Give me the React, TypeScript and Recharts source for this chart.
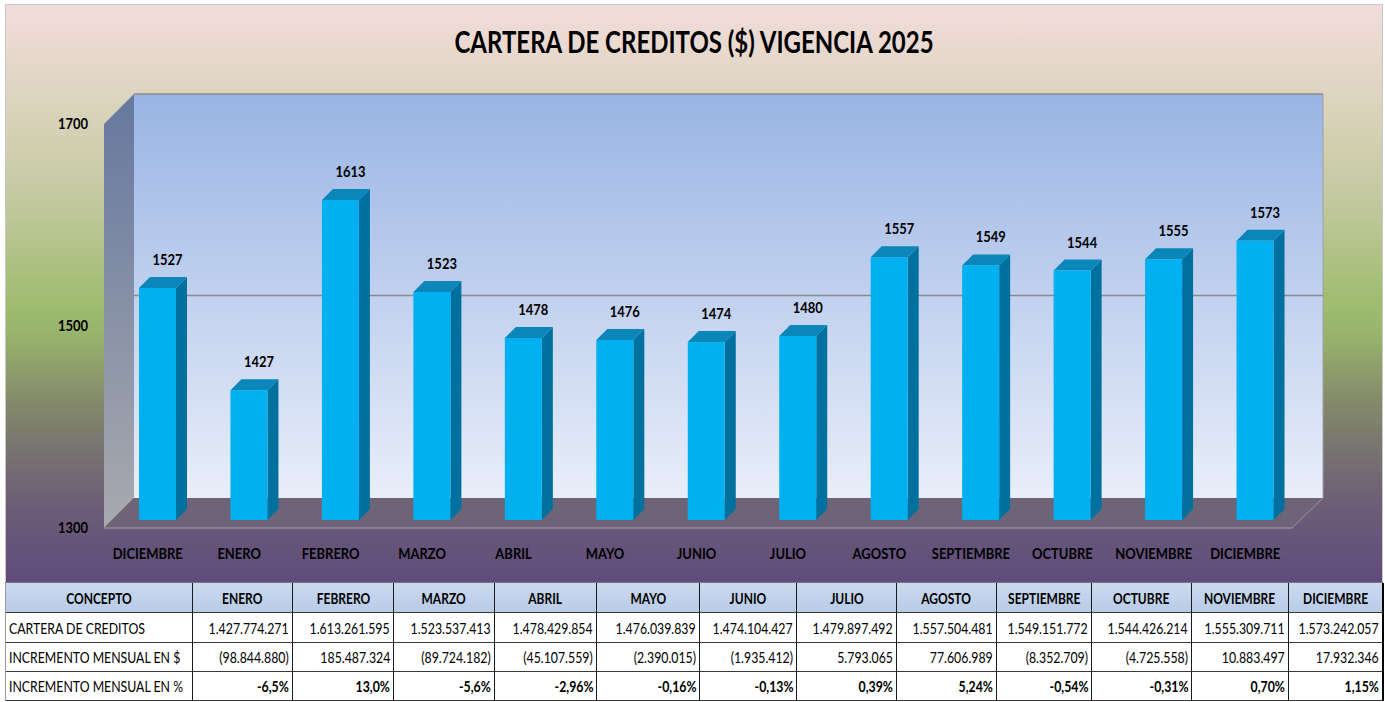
import React from 'react';
import { BarChart, Bar, XAxis, YAxis, CartesianGrid, LabelList } from 'recharts';

// ---------- DATA ----------
const categories = ['DICIEMBRE', 'ENERO', 'FEBRERO', 'MARZO', 'ABRIL', 'MAYO', 'JUNIO', 'JULIO', 'AGOSTO', 'SEPTIEMBRE', 'OCTUBRE', 'NOVIEMBRE', 'DICIEMBRE'];
const values = [1527, 1427, 1613, 1523, 1478, 1476, 1474, 1480, 1557, 1549, 1544, 1555, 1573];
const yTicks = [1300, 1500, 1700];
const title = 'CARTERA DE CREDITOS ($) VIGENCIA 2025';

const tableHeader = ['CONCEPTO', 'ENERO', 'FEBRERO', 'MARZO', 'ABRIL', 'MAYO', 'JUNIO', 'JULIO', 'AGOSTO', 'SEPTIEMBRE', 'OCTUBRE', 'NOVIEMBRE', 'DICIEMBRE'];
const carteraRow = ['CARTERA DE CREDITOS', '1.427.774.271', '1.613.261.595', '1.523.537.413', '1.478.429.854', '1.476.039.839', '1.474.104.427', '1.479.897.492', '1.557.504.481', '1.549.151.772', '1.544.426.214', '1.555.309.711', '1.573.242.057'];
const incPesosRow = ['INCREMENTO MENSUAL EN $', '(98.844.880)', '185.487.324', '(89.724.182)', '(45.107.559)', '(2.390.015)', '(1.935.412)', '5.793.065', '77.606.989', '(8.352.709)', '(4.725.558)', '10.883.497', '17.932.346'];
const incPctRow = ['INCREMENTO MENSUAL EN %', '-6,5%', '13,0%', '-5,6%', '-2,96%', '-0,16%', '-0,13%', '0,39%', '5,24%', '-0,54%', '-0,31%', '0,70%', '1,15%'];

const data = categories.map((name, i) => ({ id: i, name, value: values[i] }));

// ---------- LAYOUT / STYLE ----------
const W = 1385;
const CH = 582;
const PLOT_L = 112;
const PLOT_T = 111;
const PLOT_R = 1301;
const PLOT_B = 520;
const FONT = 'Lato, "Open Sans", sans-serif';

// 3D frame planes
const FL = PLOT_L - 8, FT = PLOT_T + 13, FB = PLOT_B + 8, FR = PLOT_R - 9;
const BL = FL + 30, BT = FT - 30, BB = FB - 30, BR = FR + 31;
const DEPTH = 11;

const colWidths = [187, 100, 101, 101, 102, 103, 97, 100, 100, 95, 100, 97, 95];
const rowHeights = [30, 30, 29, 29];

const SText = ({ x, y, sx = 0.81, size = 16, anchor = 'middle', bold = true, children }: any) => (
  <text
    transform={`translate(${x},${y}) scale(${sx},1)`}
    textAnchor={anchor}
    fontFamily={FONT}
    fontWeight={bold ? 'bold' : 'normal'}
    fontSize={size}
    fill="#000"
  >
    {children}
  </text>
);

const Bar3D = (props: any) => {
  const { x, y, width, height } = props;
  if (width == null || height == null) return <g />;
  const d = DEPTH;
  return (
    <g>
      <polygon points={`${x + width},${y} ${x + width + d},${y - d} ${x + width + d},${y + height - d} ${x + width},${y + height}`} fill="#00719f" />
      <polygon points={`${x},${y} ${x + d},${y - d} ${x + width + d},${y - d} ${x + width},${y}`} fill="#0a86b8" />
      <rect x={x} y={y} width={width} height={height} fill="#00b0f0" />
    </g>
  );
};

const BarLabel = (props: any) => {
  const { x, y, width, value } = props;
  return <SText x={x + width / 2 + 10} y={y - 23}>{value}</SText>;
};

const XTick = (props: any) => {
  const { x, y, payload } = props;
  return <SText x={x - 10} y={y + 39}>{categories[payload.value]}</SText>;
};

const YTick = (props: any) => {
  const { x, y, payload } = props;
  const dy = 13 + (PLOT_B - y) * 0.0122;
  return <SText x={x - 24} y={y + dy} anchor="end">{payload.value}</SText>;
};

const GridLine = (p: any) => {
  if (p.y1 <= PLOT_T + 2 || p.y1 >= PLOT_B - 2) return <g key={p.key} />;
  return <line key={p.key} x1={p.x1 + 22} x2={p.x2 + 22} y1={p.y1 - 20} y2={p.y2 - 20} stroke="#8a8a8a" strokeWidth={1.5} />;
};

const Frame = () => (
  <svg width={W} height={CH} style={{ position: 'absolute', left: 0, top: 0 }}>
    <defs>
      <linearGradient id="outer" x1="0" y1="0" x2="0" y2="1">
        <stop offset="0" stopColor="#f3dcdc" />
        <stop offset="0.16" stopColor="#ddd5bf" />
        <stop offset="0.33" stopColor="#c4c9a1" />
        <stop offset="0.52" stopColor="#9fbc6f" />
        <stop offset="0.58" stopColor="#97b16c" />
        <stop offset="0.68" stopColor="#858c6a" />
        <stop offset="0.76" stopColor="#79766f" />
        <stop offset="0.86" stopColor="#6c5f77" />
        <stop offset="1" stopColor="#5f4b7c" />
      </linearGradient>
      <linearGradient id="back" x1="0" y1="0" x2="0" y2="1">
        <stop offset="0" stopColor="#99b4e4" />
        <stop offset="1" stopColor="#e9eef9" />
      </linearGradient>
      <linearGradient id="side" x1="0" y1="0" x2="0" y2="1">
        <stop offset="0" stopColor="#66789f" />
        <stop offset="1" stopColor="#a9aaaf" />
      </linearGradient>
    </defs>
    <rect x={5.5} y={4.5} width={W - 8} height={CH - 4} fill="url(#outer)" stroke="#c8c8c8" />
    <SText x={694} y={53} size={30} sx={0.8}>{title}</SText>
    <rect x={BL} y={BT} width={BR - BL} height={BB - BT} fill="url(#back)" />
    <line x1={BL} y1={BT} x2={BR} y2={BT} stroke="#8a8a8a" strokeWidth={1.5} />
    <line x1={BR} y1={BT} x2={BR} y2={BB} stroke="#a0a0a8" strokeWidth={1} />
    <polygon points={`${FL},${FT} ${BL},${BT} ${BL},${BB} ${FL},${FB}`} fill="url(#side)" />
    <polygon points={`${FL},${FB} ${BL},${BB} ${BR},${BB} ${FR},${FB}`} fill="#6e6477" />
    <line x1={FL} y1={FB} x2={FR} y2={FB} stroke="#8f8c9d" strokeWidth={1.5} />
    <line x1={FR} y1={FB} x2={BR} y2={BB} stroke="#9a96a3" strokeWidth={1} />
  </svg>
);

const cellBase: React.CSSProperties = {
  boxSizing: 'border-box',
  display: 'flex',
  alignItems: 'center',
  padding: '0 3px',
  fontFamily: FONT,
  fontSize: 15,
  color: '#000',
  whiteSpace: 'nowrap',
  overflow: 'visible',
  borderRight: '1px solid #1a1a1a',
  borderBottom: '1px solid #3a3a3a',
};

const Table = () => {
  const rows = [tableHeader, carteraRow, incPesosRow, incPctRow];
  return (
    <div
      style={{
        position: 'absolute',
        left: 5,
        top: CH,
        width: colWidths.reduce((a, b) => a + b, 0),
        display: 'grid',
        gridTemplateColumns: colWidths.map((w) => `${w}px`).join(' '),
        gridTemplateRows: rowHeights.map((h) => `${h}px`).join(' '),
        borderTop: '1px solid #777',
        borderLeft: '1px solid #999',
        boxSizing: 'border-box',
      }}
    >
      {rows.map((row, r) =>
        row.map((txt, c) => {
          const isHeader = r === 0;
          const align = isHeader ? 'center' : c === 0 ? 'left' : 'right';
          const style: React.CSSProperties = {
            ...cellBase,
            justifyContent: isHeader ? 'center' : c === 0 ? 'flex-start' : 'flex-end',
            fontWeight: isHeader || (r === 3 && c > 0) ? 'bold' : 'normal',
            fontSize: isHeader ? 15 : 15,
            background: isHeader ? 'linear-gradient(#cad9ef, #b9cce6)' : '#fff',
            borderRight: c === row.length - 1 ? '2px solid #000' : cellBase.borderRight,
          };
          return (
            <div key={`${r}-${c}`} style={style}>
              <span style={{ display: 'inline-block', transform: `scaleX(${isHeader ? 0.8 : 0.82})`, transformOrigin: `${align} center` }}>{txt}</span>
            </div>
          );
        })
      )}
    </div>
  );
};

export default function App() {
  return (
    <div style={{ position: 'absolute', left: 0, top: 0, width: W, height: 702, background: '#fff', overflow: 'hidden' }}>
      <Frame />
      <div style={{ position: 'absolute', left: 0, top: 0 }}>
        <BarChart width={W} height={580} data={data} margin={{ top: PLOT_T, right: W - PLOT_R, bottom: 30, left: PLOT_L - 60 }}>
          <CartesianGrid vertical={false} horizontal={GridLine} />
          <XAxis dataKey="id" type="category" height={30} axisLine={false} tickLine={false} tickSize={0} tickMargin={0} tick={<XTick />} interval={0} />
          <YAxis domain={[1300, 1700]} ticks={yTicks} width={60} axisLine={false} tickLine={false} tickSize={0} tickMargin={0} tick={<YTick />} allowDataOverflow />
          <Bar dataKey="value" barSize={37} shape={<Bar3D />} isAnimationActive={false}>
            <LabelList dataKey="value" content={<BarLabel />} />
          </Bar>
        </BarChart>
      </div>
      <Table />
    </div>
  );
}
